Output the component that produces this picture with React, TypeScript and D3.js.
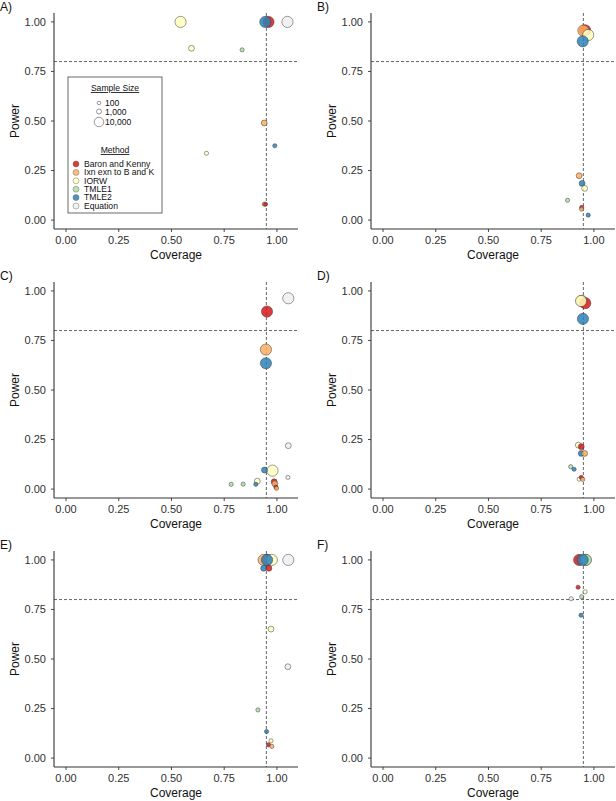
import React from "react";
import * as d3 from "d3";

// ---------- data ----------
const methods = ["Baron and Kenny", "Ixn exn to B and K", "IORW", "TMLE1", "TMLE2", "Equation"];
const methodColors = ["#d7191c", "#fdae61", "#ffffbf", "#abdda4", "#2b83ba", "#eeeeee"];
const sampleSizes = [100, 1000, 10000];
const sampleSizeLabels = ["100", "1,000", "10,000"];
const xTicks = [0, 0.25, 0.5, 0.75, 1.0];
const yTicks = [0, 0.25, 0.5, 0.75, 1.0];
const panelLabels = ["A)", "B)", "C)", "D)", "E)", "F)"];
const coverageRef = 0.95;
const powerRef = 0.8;

// [methodIndex, sampleSize, coverage, power]
type Pt = [number, number, number, number];
const panelA: Pt[] = [
  [0, 10000, 0.96, 1.0], [4, 10000, 0.945, 1.0], [2, 10000, 0.543, 1.0], [5, 10000, 1.05, 1.0],
  [2, 1000, 0.595, 0.867], [3, 100, 0.835, 0.859], [1, 1000, 0.94, 0.49], [4, 100, 0.99, 0.375],
  [2, 100, 0.666, 0.337], [1, 100, 0.94, 0.08], [0, 100, 0.946, 0.08],
];
const panelB: Pt[] = [
  [0, 10000, 0.958, 0.958], [1, 10000, 0.95, 0.956], [2, 10000, 0.973, 0.934], [4, 10000, 0.947, 0.902],
  [1, 1000, 0.93, 0.224], [4, 1000, 0.944, 0.185], [2, 1000, 0.956, 0.16], [3, 100, 0.875, 0.10],
  [0, 100, 0.942, 0.064], [1, 100, 0.942, 0.055], [4, 100, 0.973, 0.025],
];
const panelC: Pt[] = [
  [5, 10000, 1.054, 0.963], [0, 10000, 0.953, 0.896], [1, 10000, 0.948, 0.704], [4, 10000, 0.948, 0.635],
  [2, 10000, 0.979, 0.093], [5, 1000, 1.054, 0.219], [4, 1000, 0.941, 0.096], [2, 1000, 0.907, 0.04],
  [0, 1000, 0.987, 0.037], [1, 1000, 0.99, 0.027], [5, 100, 1.052, 0.059], [3, 100, 0.783, 0.024],
  [3, 100, 0.84, 0.025], [4, 100, 0.9, 0.024], [0, 100, 0.995, 0.01], [1, 100, 0.998, 0.004],
];
const panelD: Pt[] = [
  [1, 10000, 0.942, 0.95], [0, 10000, 0.959, 0.938], [2, 10000, 0.939, 0.949], [4, 10000, 0.948, 0.859],
  [2, 1000, 0.926, 0.222], [0, 1000, 0.94, 0.214], [4, 1000, 0.94, 0.18], [1, 1000, 0.956, 0.18],
  [3, 100, 0.89, 0.113], [4, 100, 0.906, 0.10], [2, 100, 0.93, 0.05], [0, 100, 0.94, 0.059], [1, 100, 0.947, 0.049],
];
const panelE: Pt[] = [
  [0, 10000, 0.955, 1.0], [1, 10000, 0.937, 1.0], [2, 10000, 0.976, 1.0], [4, 10000, 0.953, 1.0],
  [5, 10000, 1.054, 1.0], [4, 1000, 0.937, 0.958], [0, 1000, 0.962, 0.958], [2, 1000, 0.972, 0.651],
  [5, 1000, 1.052, 0.461], [3, 100, 0.91, 0.243], [4, 100, 0.951, 0.134], [2, 100, 0.972, 0.087],
  [0, 100, 0.96, 0.067], [1, 100, 0.976, 0.059],
];
const panelF: Pt[] = [
  [0, 10000, 0.93, 1.0], [2, 10000, 0.96, 1.0], [3, 10000, 0.962, 1.0], [4, 10000, 0.947, 1.0],
  [0, 100, 0.925, 0.862], [2, 100, 0.958, 0.839], [3, 100, 0.942, 0.814], [5, 100, 0.892, 0.804],
  [4, 100, 0.939, 0.721],
];
const panels = [panelA, panelB, panelC, panelD, panelE, panelF];

// ---------- layout ----------
const W = 616;
const H = 801;
const plotW = 244;
const plotH = 216;
const colLeft = [54, 371];
const rowTop = [13, 282, 551];
const xDomain: [number, number] = [-0.057, 1.1];
const yDomain: [number, number] = [-0.045, 1.045];
const FONT = "'Liberation Sans', Arial, Helvetica, sans-serif";
const AX = "#333333";

const rScale = d3.scaleSqrt().domain([100, 10000]).range([2.1, 5.6]);
const fmt = d3.format(".2f");

function Panel({ idx }: { idx: number }) {
  const left = colLeft[idx % 2];
  const top = rowTop[Math.floor(idx / 2)];
  const x = d3.scaleLinear().domain(xDomain).range([left, left + plotW]);
  const y = d3.scaleLinear().domain(yDomain).range([top + plotH, top]);
  const bottom = top + plotH;
  const data = [...panels[idx]].sort((a, b) => b[1] - a[1]);
  return (
    <g>
      <text x={left - 54} y={top - 2} fontSize={12} fontFamily={FONT} fill="#111">
        {panelLabels[idx]}
      </text>
      {/* reference lines */}
      <line x1={x(coverageRef)} x2={x(coverageRef)} y1={top} y2={bottom} stroke="#555" strokeWidth={0.9} strokeDasharray="3,2" />
      <line x1={left} x2={left + plotW} y1={y(powerRef)} y2={y(powerRef)} stroke="#555" strokeWidth={0.9} strokeDasharray="3,2" />
      {/* points */}
      {data.map((p, i) => (
        <circle
          key={i}
          cx={x(p[2])}
          cy={y(p[3])}
          r={rScale(p[1])}
          fill={methodColors[p[0]]}
          fillOpacity={0.85}
          stroke="#3a3a3a"
          strokeWidth={0.5}
        />
      ))}
      {/* axes */}
      <line x1={left} x2={left} y1={top} y2={bottom} stroke={AX} strokeWidth={1.1} />
      <line x1={left} x2={left + plotW} y1={bottom} y2={bottom} stroke={AX} strokeWidth={1.1} />
      {yTicks.map((t) => (
        <g key={"y" + t}>
          <line x1={left - 3} x2={left} y1={y(t)} y2={y(t)} stroke={AX} strokeWidth={0.9} />
          <text x={left - 8} y={y(t)} dy="0.35em" textAnchor="end" fontSize={11} fontFamily={FONT} fill="#303030">
            {fmt(t)}
          </text>
        </g>
      ))}
      {xTicks.map((t) => (
        <g key={"x" + t}>
          <line x1={x(t)} x2={x(t)} y1={bottom} y2={bottom + 3} stroke={AX} strokeWidth={0.9} />
          <text x={x(t)} y={bottom + 15} textAnchor="middle" fontSize={11} fontFamily={FONT} fill="#303030">
            {fmt(t)}
          </text>
        </g>
      ))}
      <text x={left + plotW / 2} y={bottom + 30} textAnchor="middle" fontSize={12} fontFamily={FONT} fill="#111">
        Coverage
      </text>
      <text
        transform={`translate(${left - 35},${top + plotH / 2}) rotate(-90)`}
        textAnchor="middle"
        fontSize={12}
        fontFamily={FONT}
        fill="#111"
      >
        Power
      </text>
    </g>
  );
}

function Legend() {
  const lx = 68;
  const ly = 77;
  const lw = 94;
  const lh = 136;
  const cx = lx + lw / 2;
  return (
    <g fontFamily={FONT} fontSize={8.6} fill="#111">
      <rect x={lx} y={ly} width={lw} height={lh} fill="#fff" stroke="#444" strokeWidth={0.8} />
      <text x={cx} y={ly + 14} textAnchor="middle" textDecoration="underline">Sample Size</text>
      {sampleSizes.map((s, i) => {
        const yy = ly + 26 + i * 8.5 + (i === 2 ? 2 : 0);
        return (
          <g key={s}>
            <circle cx={lx + 31} cy={yy} r={rScale(s) * 0.85} fill="#fff" stroke="#555" strokeWidth={0.6} />
            <text x={lx + 37} y={yy} dy="0.35em">{sampleSizeLabels[i]}</text>
          </g>
        );
      })}
      <text x={cx} y={ly + 76} textAnchor="middle" textDecoration="underline">Method</text>
      {methods.map((m, i) => {
        const yy = ly + 87 + i * 8.4;
        return (
          <g key={m}>
            <circle cx={lx + 8} cy={yy} r={3} fill={methodColors[i]} fillOpacity={0.85} stroke="#555" strokeWidth={0.4} />
            <text x={lx + 16} y={yy} dy="0.33em">{m}</text>
          </g>
        );
      })}
    </g>
  );
}

export default function App() {
  return (
    <svg width={W} height={H} style={{ position: "absolute", left: 0, top: 0, background: "#fff" }}>
      <rect width={W} height={H} fill="#fff" />
      {panels.map((_, i) => (
        <Panel key={i} idx={i} />
      ))}
      <Legend />
    </svg>
  );
}
